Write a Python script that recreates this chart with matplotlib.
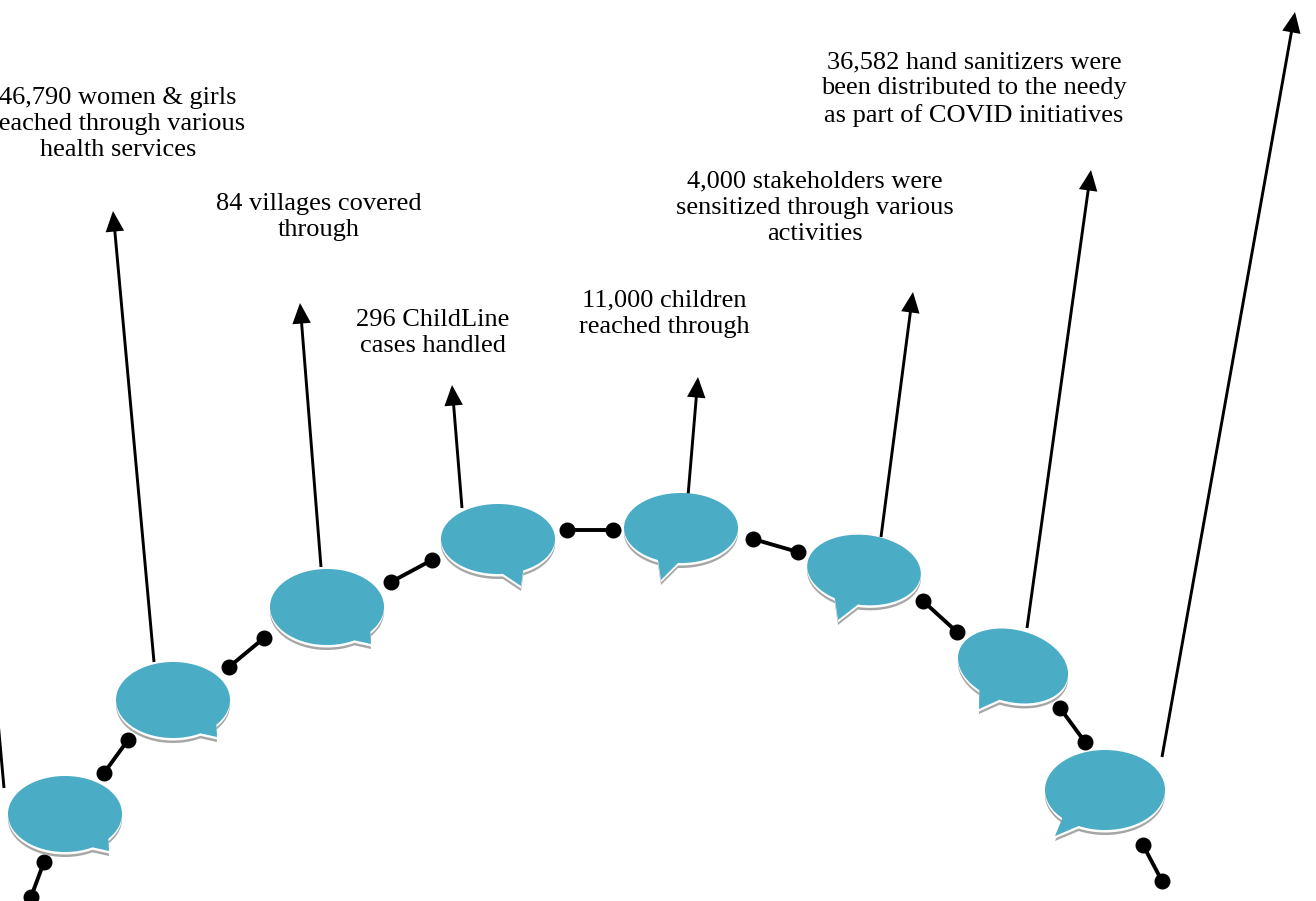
import numpy as np
import matplotlib
matplotlib.use('Agg')
import matplotlib.pyplot as plt
from matplotlib.patches import Polygon

# everything is in reference pixels
WIDTH, HEIGHT = 1316, 901
TEAL = '#4bacc6'
GREY = '#a6a6a6'

# cx, cy, rx, ry, tilt in degrees
bubbles = [
    (65, 814, 57, 38, 0),
    (173, 700, 57, 38, 0),
    (327, 607, 57, 38, 0),
    (498, 539, 57, 35, 0),
    (681, 528, 57, 35, 0),
    (864, 570, 57, 35, 6),
    (1013, 666, 56, 36, 14),
    (1105, 790, 60, 40, 0),
]
# base one, tip, base two of each bubble's tail
tails = [
    ((93, 848), (109, 851), (109, 839)),
    ((201, 734), (217, 737), (217, 725)),
    ((355, 641), (371, 644), (371, 632)),
    ((503, 575), (521, 586), (523, 570)),
    ((658, 560), (661, 580), (678, 563)),
    ((835, 598), (838, 620), (858, 604)),
    ((981, 689), (979, 709), (1000, 699)),
    ((1061, 819), (1055, 836), (1078, 827)),
]
links = [
    ((31, 897), (44, 862)),
    ((104, 773), (128, 740)),
    ((229, 667), (264, 638)),
    ((391, 582), (432, 560)),
    ((567, 530), (613, 530)),
    ((753, 539), (798, 552)),
    ((923, 601), (957, 632)),
    ((1060, 708), (1085, 742)),
    ((1143, 845), (1162, 881)),
]
arrows = [
    ((4, 788), (-40, 300)),
    ((154, 662), (113, 211)),
    ((321, 567), (300, 303)),
    ((462, 508), (452, 385)),
    ((688, 496), (698, 377)),
    ((881, 537), (913, 292)),
    ((1027, 628), (1091, 170)),
    ((1162, 757), (1295, 12)),
]
labels = [
    '46,790 women & girls\nreached through various\nhealth services',
    '84 villages covered\nthrough',
    '296 ChildLine\ncases handled',
    '11,000 children\nreached through',
    '4,000 stakeholders were\nsensitized through various\nactivities',
    '36,582 hand sanitizers were\nbeen distributed to the needy\nas part of COVID initiatives',
]
label_pos = [(118, 124), (319, 217), (433, 333), (664, 314), (815, 208), (974, 89)]


def bubble_outline(bubble, tail):
    cx, cy, rx, ry, tilt = bubble
    base1, tip, base2 = tail
    t = np.radians(tilt)

    def angle_of(p):
        # angle on the untilted ellipse
        dx, dy = p[0] - cx, p[1] - cy
        u = dx * np.cos(t) + dy * np.sin(t)
        v = -dx * np.sin(t) + dy * np.cos(t)
        return np.arctan2(v / ry, u / rx)

    a1, a2 = angle_of(base1), angle_of(base2)
    # go the long way round, from one base of the tail to the other
    if (a2 - a1) % (2 * np.pi) < np.pi:
        a1, a2 = a2, a1
    sweep = (a2 - a1) % (2 * np.pi)
    ang = a1 + np.linspace(0, sweep, 200)
    u, v = rx * np.cos(ang), ry * np.sin(ang)
    x = cx + u * np.cos(t) - v * np.sin(t)
    y = cy + u * np.sin(t) + v * np.cos(t)
    return np.vstack([np.column_stack([x, y]), tip])


fig = plt.figure(figsize=(WIDTH / 100, HEIGHT / 100), dpi=100)
ax = fig.add_axes([0, 0, 1, 1])
ax.set_xlim(0, WIDTH)
ax.set_ylim(HEIGHT, 0)
ax.axis('off')

for start, end in arrows:
    ax.annotate('', xy=end, xytext=start, annotation_clip=False,
                arrowprops=dict(arrowstyle='-|>,head_length=0.8,head_width=0.36', color='black',
                                lw=2.1, shrinkA=0, shrinkB=0, mutation_scale=14,
                                joinstyle='miter', capstyle='butt'))

for start, end in links:
    ax.plot([start[0], end[0]], [start[1], end[1]], color='black', lw=2.8,
            marker='o', ms=10.5, solid_capstyle='butt', zorder=2)

for bubble, tail in zip(bubbles, tails):
    outline = bubble_outline(bubble, tail)
    ax.add_patch(Polygon(outline + [0, 5], closed=True, fc=GREY, ec='none', zorder=3))
    ax.add_patch(Polygon(outline + [0, 2.5], closed=True, fc='white', ec='none', zorder=3))
    ax.add_patch(Polygon(outline, closed=True, fc=TEAL, ec='none', zorder=3))

for text, (x, y) in zip(labels, label_pos):
    ax.text(x, y, text, ha='center', va='center', family='Liberation Serif',
            fontsize=19, linespacing=1.26, color='black')

fig.savefig('out.png', dpi=100)
